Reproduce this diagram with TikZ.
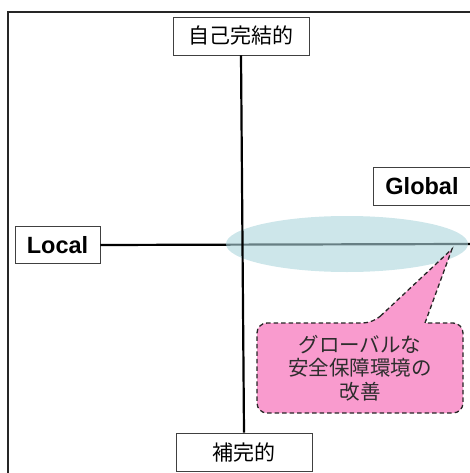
\documentclass[tikz,border=0pt]{standalone}
\usepackage{fontspec}
\usetikzlibrary{shapes.geometric}
\setmainfont{Liberation Sans}
\newfontfamily\jpfont{Noto Sans CJK JP}
\definecolor{ellfill}{RGB}{172,213,220}
\definecolor{callpink}{RGB}{249,155,206}
\definecolor{calltext}{RGB}{45,45,45}
\tikzset{
  axisbox/.style={draw=black!75, line width=0.9pt, fill=white, inner sep=0pt, minimum height=38pt},
  jplabel/.style={font=\jpfont\fontsize{21}{23}\selectfont},
  latlabel/.style={font=\bfseries\fontsize{23.5}{26}\selectfont},
  axisline/.style={line width=2.2pt, black},
  calloutpath/.style={fill=callpink, draw=black!85, line width=1.3pt, dash pattern=on 4.5pt off 3pt},
}
\begin{document}
\begin{tikzpicture}[x=1pt,y=-1pt]
\useasboundingbox (0,0) rectangle (470,473);
\clip (0,0) rectangle (470,473);
% outer frame
\draw[line width=1.8pt, black!85] (8,12) rectangle (490,490);
% boxes
\node[axisbox, jplabel, minimum width=136pt] (top) at (241,36) {自己完結的};
\node[axisbox, jplabel, minimum width=136pt, minimum height=38pt] (bot) at (244,452) {補完的};
\node[axisbox, latlabel, minimum width=85pt, minimum height=37pt] (loc) at (57.5,245) {Local};
\node[axisbox, latlabel, minimum width=110pt] (glob) at (428,186) {\hspace*{-12pt}Global};
\coordinate (hend) at (470,244);
% horizontal axis
\draw[axisline] (loc.east) -- (hend);
% ellipse
\node[ellipse, fill=ellfill, fill opacity=0.6, minimum width=242pt, minimum height=56pt, inner sep=0pt] (ell) at (347,244) {};
% vertical axis
\draw[axisline] (top.south) -- (bot.north);
% callout
\coordinate (tip) at (452,249);
\draw[calloutpath, rounded corners=10pt] (373,323) [sharp corners]-- (tip) -- (425,323) [rounded corners=10pt]-- (463,323) -- (463,413) -- (257,413) -- (257,323) -- cycle;
\node[align=center, text=calltext, font=\jpfont\fontsize{20.5}{23.5}\selectfont] (calltxt) at (360,368) {グローバルな\\安全保障環境の\\改善};
\end{tikzpicture}
\end{document}
